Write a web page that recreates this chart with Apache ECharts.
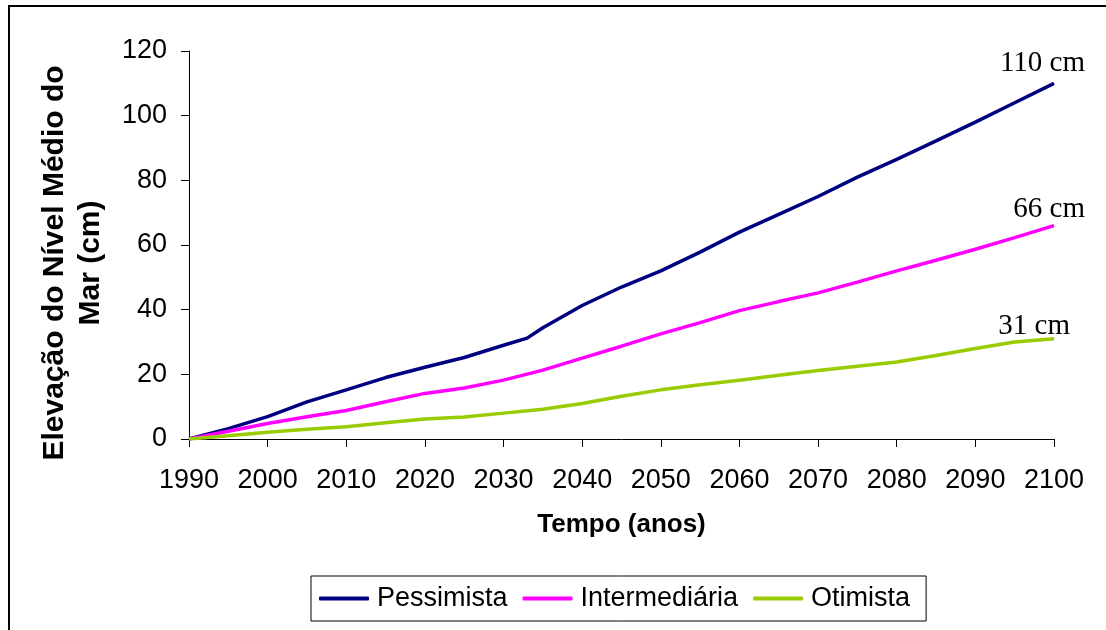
<!DOCTYPE html>
<html>
<head>
<meta charset="utf-8">
<script src="https://cdn.jsdelivr.net/npm/echarts@6/dist/echarts.min.js"></script>
<style>
  html, body { margin: 0; padding: 0; background: #fff; }
  #chart { width: 1106px; height: 630px; }
</style>
</head>
<body>
<div id="chart"></div>
<script>
// anos com pontos (pessimista tem um ponto extra em 2033)
const anosPess = [1990, 1995, 2000, 2005, 2010, 2015, 2020, 2025, 2030, 2033, 2035, 2040, 2045,
  2050, 2055, 2060, 2065, 2070, 2075, 2080, 2085, 2090, 2095, 2100];
const pessimista = [0, 3.2, 6.9, 11.5, 15.2, 19, 22.2, 25.2, 29, 31.2, 34.4, 41.3, 47,
  52, 57.8, 64, 69.5, 75, 81, 86.5, 92.2, 98, 104, 110];

const anos = [1990, 1995, 2000, 2005, 2010, 2015, 2020, 2025, 2030, 2035, 2040, 2045,
  2050, 2055, 2060, 2065, 2070, 2075, 2080, 2085, 2090, 2095, 2100];
const intermediaria = [0, 2.4, 4.8, 6.9, 8.8, 11.5, 14.1, 15.8, 18.2, 21.3, 25, 28.7,
  32.5, 36, 39.7, 42.5, 45.2, 48.5, 52, 55.3, 58.7, 62.3, 66];
const otimista = [0, 1, 2.1, 3, 3.8, 5, 6.2, 6.8, 8, 9.2, 11, 13.2,
  15.2, 16.8, 18.2, 19.7, 21.2, 22.5, 23.8, 25.8, 28, 30, 31];

const nomes = ['Pessimista', 'Intermediária', 'Otimista'];
const cores = ['#000080', '#ff00ff', '#99cc00'];
const rotulosFinais = ['110 cm', '66 cm', '31 cm'];

const sans = 'Liberation Sans, Arial, sans-serif';
const serif = 'Liberation Serif, Times New Roman, serif';

function pares(xs, ys) {
  return xs.map((x, i) => [x, ys[i]]);
}

function serie(i, dados) {
  return {
    name: nomes[i],
    type: 'line',
    data: dados,
    showSymbol: false,
    symbol: 'none',
    lineStyle: { color: cores[i], width: 3.5 },
    itemStyle: { color: cores[i] },
  };
}

const chart = echarts.init(document.getElementById('chart'));

const options = {
  animation: false,
  grid: { left: 189, right: 52, top: 51, bottom: 191 },
  xAxis: {
    type: 'value',
    min: 1990,
    max: 2100,
    interval: 10,
    name: 'Tempo (anos)',
    nameLocation: 'middle',
    nameGap: 73,
    nameTextStyle: { fontFamily: sans, fontSize: 26, fontWeight: 'bold', color: '#000' },
    axisLine: { lineStyle: { color: '#000', width: 1 } },
    axisTick: { inside: false, length: 8, lineStyle: { color: '#000' } },
    axisLabel: {
      fontFamily: sans, fontSize: 27, color: '#000', margin: 28,
      formatter: (v) => String(v),
    },
    splitLine: { show: false },
  },
  yAxis: {
    type: 'value',
    min: 0,
    max: 120,
    interval: 20,
    axisLine: { show: true, lineStyle: { color: '#000', width: 1 } },
    axisTick: { show: true, inside: false, length: 8, lineStyle: { color: '#000' } },
    axisLabel: { fontFamily: sans, fontSize: 27, color: '#000', margin: 22 },
    splitLine: { show: false },
  },
  legend: {
    left: 311,
    top: 576,
    orient: 'horizontal',
    icon: 'roundRect',
    itemWidth: 50,
    itemHeight: 4,
    itemGap: 15,
    padding: [9, 16, 9, 8],
    borderColor: '#000',
    borderWidth: 1,
    data: nomes,
    textStyle: { fontFamily: sans, fontSize: 27, color: '#000', padding: [0, 0, 0, 3] },
  },
  graphic: [
    {
      type: 'rect',
      shape: { x: 9, y: 6, width: 1110, height: 640 },
      style: { fill: 'none', stroke: '#000', lineWidth: 2 },
      silent: true,
    },
    {
      type: 'text',
      x: 73,
      y: 263,
      rotation: Math.PI / 2,
      style: {
        text: 'Elevação do Nível Médio do\nMar (cm)',
        font: 'bold 30px ' + sans,
        fill: '#000',
        align: 'center',
        verticalAlign: 'middle',
        lineHeight: 36,
      },
    },
    {
      type: 'text', right: 21, top: 49,
      style: { text: rotulosFinais[0], font: '29px ' + serif, fill: '#000' },
    },
    {
      type: 'text', right: 21, top: 195,
      style: { text: rotulosFinais[1], font: '29px ' + serif, fill: '#000' },
    },
    {
      type: 'text', right: 36, top: 312,
      style: { text: rotulosFinais[2], font: '29px ' + serif, fill: '#000' },
    },
  ],
  series: [
    serie(0, pares(anosPess, pessimista)),
    serie(1, pares(anos, intermediaria)),
    serie(2, pares(anos, otimista)),
  ],
};

chart.setOption(options);
</script>
</body>
</html>
